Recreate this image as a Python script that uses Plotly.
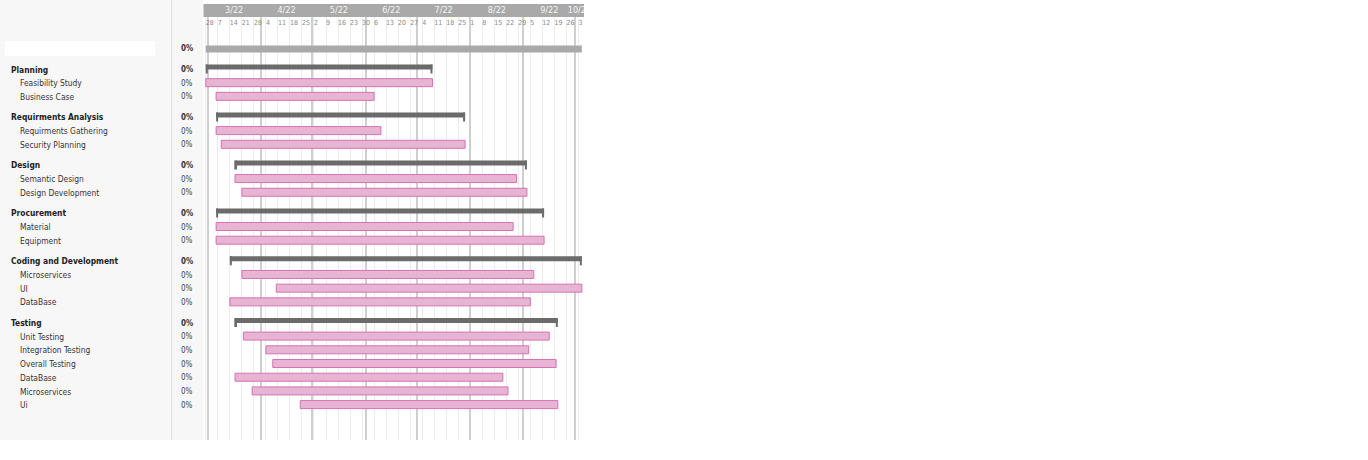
import plotly.graph_objects as go
import pandas as pd

W, H = 1368, 460

# ---------------- data ----------------
project_progress = "0%"
project_start = "2022-02-28"
project_end = "2022-10-05"

group_names = ["Planning", "Requirments Analysis", "Design", "Procurement",
               "Coding and Development", "Testing"]
group_start = ["2022-02-28", "2022-03-06", "2022-03-17", "2022-03-06", "2022-03-14", "2022-03-17"]
group_end = ["2022-07-10", "2022-07-29", "2022-09-03", "2022-09-13", "2022-10-05", "2022-09-21"]
group_progress = ["0%", "0%", "0%", "0%", "0%", "0%"]

task_names = ["Feasibility Study", "Business Case",
              "Requirments Gathering", "Security Planning",
              "Semantic Design", "Design Development",
              "Material", "Equipment",
              "Microservices", "UI", "DataBase",
              "Unit Testing", "Integration Testing", "Overall Testing", "DataBase", "Microservices", "Ui"]
task_group = ["Planning", "Planning",
              "Requirments Analysis", "Requirments Analysis",
              "Design", "Design",
              "Procurement", "Procurement",
              "Coding and Development", "Coding and Development", "Coding and Development",
              "Testing", "Testing", "Testing", "Testing", "Testing", "Testing"]
task_start = ["2022-02-28", "2022-03-06",
              "2022-03-06", "2022-03-09",
              "2022-03-17", "2022-03-21",
              "2022-03-06", "2022-03-06",
              "2022-03-21", "2022-04-10", "2022-03-14",
              "2022-03-22", "2022-04-04", "2022-04-08", "2022-03-17", "2022-03-27", "2022-04-24"]
task_end = ["2022-07-10", "2022-06-06",
            "2022-06-10", "2022-07-29",
            "2022-08-28", "2022-09-03",
            "2022-08-26", "2022-09-13",
            "2022-09-07", "2022-10-05", "2022-09-05",
            "2022-09-16", "2022-09-04", "2022-09-20", "2022-08-20", "2022-08-23", "2022-09-21"]
task_progress = ["0%"] * len(task_names)

month_labels = ["3/22", "4/22", "5/22", "6/22", "7/22", "8/22", "9/22", "10/22"]
month_starts = ["2022-03-01", "2022-04-01", "2022-05-01", "2022-06-01",
                "2022-07-01", "2022-08-01", "2022-09-01", "2022-10-01"]
week_labels = ["28", "7", "14", "21", "28", "4", "11", "18", "25", "2", "9", "16", "23", "30",
               "6", "13", "20", "27", "4", "11", "18", "25", "1", "8", "15", "22", "29",
               "5", "12", "19", "26", "3"]

# ---------------- layout helpers ----------------
X_RANGE = ["2022-02-26 13:00", "2022-10-06 06:00"]
FONT = "DejaVu Sans Condensed, Liberation Sans, sans-serif"
PINK = "#e8b4d4"
PINK_LINE = "#d472b2"
SUMMARY = "#6b6b6b"
PROJECT = "#a9a9a9"

ROW_PX = 13.7
TOP_PX, BOT_PX = 30, 440
ROW0_PX = 49
y_top = (TOP_PX - ROW0_PX) / ROW_PX
y_bot = (BOT_PX - ROW0_PX) / ROW_PX


def px_x(p):
    return p / W


def px_y(p):
    return (H - p) / H


def dur_ms(a, b):
    return (pd.to_datetime(b) - pd.to_datetime(a)).total_seconds() * 1000


# row positions (row units, group header leaves half-row gap)
pos = 0.0
group_y = {}
task_pairs = []
for g in group_names:
    pos += 1.5
    group_y[g] = pos
    idx = [i for i, tg in enumerate(task_group) if tg == g]
    for i in idx:
        pos += 1
        task_pairs.append((i, pos))
task_y = [p for _, p in sorted(task_pairs)]
gy = [group_y[g] for g in group_names]

fig = go.Figure()

# header band (background of month row)
fig.add_trace(go.Bar(
    y=[1.5], base=[X_RANGE[0]], x=[dur_ms(X_RANGE[0], X_RANGE[1])],
    orientation="h", width=1, marker=dict(color="#a9a9a9", line=dict(width=0)),
    hoverinfo="skip", xaxis="x2", yaxis="y2"))

# project bar
fig.add_trace(go.Bar(
    y=[0], base=[project_start], x=[dur_ms(project_start, project_end)],
    orientation="h", width=0.51, marker=dict(color=PROJECT, line=dict(width=0)),
    hoverinfo="skip", xaxis="x", yaxis="y"))

# summary bars
S_OFF = 2.5 / ROW_PX
fig.add_trace(go.Bar(
    y=[v - S_OFF for v in gy], base=group_start,
    x=[dur_ms(a, b) for a, b in zip(group_start, group_end)],
    orientation="h", width=5 / ROW_PX, marker=dict(color=SUMMARY, line=dict(width=0)),
    hoverinfo="skip", xaxis="x", yaxis="y"))

# summary end ticks
TICK_MS = 2 / 1.7173 * 86400000
tick_y, tick_base = [], []
for v, a, b in zip(gy, group_start, group_end):
    tick_y += [v - 0.5 / ROW_PX, v - 0.5 / ROW_PX]
    tick_base += [a, (pd.to_datetime(b) - pd.Timedelta(milliseconds=TICK_MS)).strftime("%Y-%m-%d %H:%M:%S")]
fig.add_trace(go.Bar(
    y=tick_y, base=tick_base, x=[TICK_MS] * len(tick_y),
    orientation="h", width=9 / ROW_PX, marker=dict(color=SUMMARY, line=dict(width=0)),
    hoverinfo="skip", xaxis="x", yaxis="y"))

# task bars
fig.add_trace(go.Bar(
    y=[v - 0.6 / ROW_PX for v in task_y], base=task_start,
    x=[dur_ms(a, b) for a, b in zip(task_start, task_end)],
    orientation="h", width=8 / ROW_PX,
    marker=dict(color=PINK, line=dict(color=PINK_LINE, width=1)),
    hoverinfo="skip", xaxis="x", yaxis="y"))

# header: month labels centred in visible part of each month
r0, r1 = pd.to_datetime(X_RANGE[0]), pd.to_datetime(X_RANGE[1])
m_x = []
for i, ms in enumerate(month_starts):
    a = max(pd.to_datetime(ms), r0)
    b = pd.to_datetime(month_starts[i + 1]) if i + 1 < len(month_starts) else pd.to_datetime(ms) + pd.offsets.MonthBegin(1)
    b = min(b, r1)
    m_x.append((a + (b - a) / 2).strftime("%Y-%m-%d %H:%M:%S"))
fig.add_trace(go.Scatter(
    x=m_x, y=[1.5] * len(m_x), mode="text", text=month_labels,
    textfont=dict(family=FONT, size=9, color="#f5f5f5"),
    hoverinfo="skip", xaxis="x2", yaxis="y2", cliponaxis=True))

week_dates = pd.date_range("2022-02-28", periods=len(week_labels), freq="7D")
fig.add_trace(go.Scatter(
    x=week_dates, y=[0.5] * len(week_labels), mode="text", text=week_labels,
    textposition="middle right",
    textfont=dict(family=FONT, size=7, color="#8a8a8a"),
    hoverinfo="skip", xaxis="x2", yaxis="y2", cliponaxis=True))

# ---------------- annotations (left panel) ----------------
LFONT = 8.4
ann = []
ann.append(dict(x=px_x(187), y=0, xref="paper", yref="y", text="<b>" + project_progress + "</b>",
                showarrow=False, xanchor="center", yanchor="middle",
                font=dict(family=FONT, size=8, color="#333")))
for g, v, p in zip(group_names, gy, group_progress):
    ann.append(dict(x=px_x(9), y=v, xref="paper", yref="y", text="<b>" + g + "</b>",
                    showarrow=False, xanchor="left", yanchor="middle",
                    font=dict(family=FONT, size=LFONT, color="#222")))
    ann.append(dict(x=px_x(187), y=v, xref="paper", yref="y", text="<b>" + p + "</b>",
                    showarrow=False, xanchor="center", yanchor="middle",
                    font=dict(family=FONT, size=8, color="#333")))
for t, v, p in zip(task_names, task_y, task_progress):
    ann.append(dict(x=px_x(18), y=v, xref="paper", yref="y", text=t,
                    showarrow=False, xanchor="left", yanchor="middle",
                    font=dict(family=FONT, size=LFONT, color="#333")))
    ann.append(dict(x=px_x(187), y=v, xref="paper", yref="y", text=p,
                    showarrow=False, xanchor="center", yanchor="middle",
                    font=dict(family=FONT, size=8, color="#444")))

shapes = [
    # left panel background
    dict(type="rect", xref="paper", yref="paper", x0=0, x1=px_x(203.3), y0=px_y(440), y1=1,
         fillcolor="#f7f7f7", line=dict(width=0), layer="below"),
    # separator
    dict(type="line", xref="paper", yref="paper", x0=px_x(171.7), x1=px_x(171.7), y0=px_y(440), y1=1,
         line=dict(color="#dedede", width=1), layer="below"),
    # redacted project name
    dict(type="rect", xref="paper", yref="paper", x0=px_x(5), x1=px_x(155), y0=px_y(56), y1=px_y(41),
         fillcolor="#ffffff", line=dict(width=0), layer="below"),
]

xcommon = dict(type="date", range=X_RANGE, showticklabels=False, ticks="",
               tickmode="linear", tick0="2022-03-01", dtick="M1",
               showgrid=True, gridcolor="#cfcfcf", gridwidth=1.5,
               minor=dict(tick0="2022-02-28", dtick=7 * 86400000, showgrid=True,
                          gridcolor="#ececec", gridwidth=1),
               zeroline=False, showline=False, fixedrange=True,
               domain=[px_x(203.3), px_x(584)])

fig.update_layout(
    width=W, height=H, autosize=False,
    margin=dict(l=0, r=0, t=0, b=0),
    paper_bgcolor="#ffffff", plot_bgcolor="#ffffff",
    showlegend=False, barmode="overlay",
    xaxis=dict(anchor="y", **xcommon),
    yaxis=dict(domain=[px_y(BOT_PX), px_y(TOP_PX)], range=[y_bot, y_top],
               showgrid=False, showticklabels=False, zeroline=False, ticks="", fixedrange=True),
    xaxis2=dict(anchor="y2", matches="x", **xcommon),
    yaxis2=dict(domain=[px_y(TOP_PX), px_y(4)], range=[0, 2], showgrid=False,
                showticklabels=False, zeroline=False, ticks="", fixedrange=True),
    annotations=ann, shapes=shapes,
)

fig.write_html("out.html")
